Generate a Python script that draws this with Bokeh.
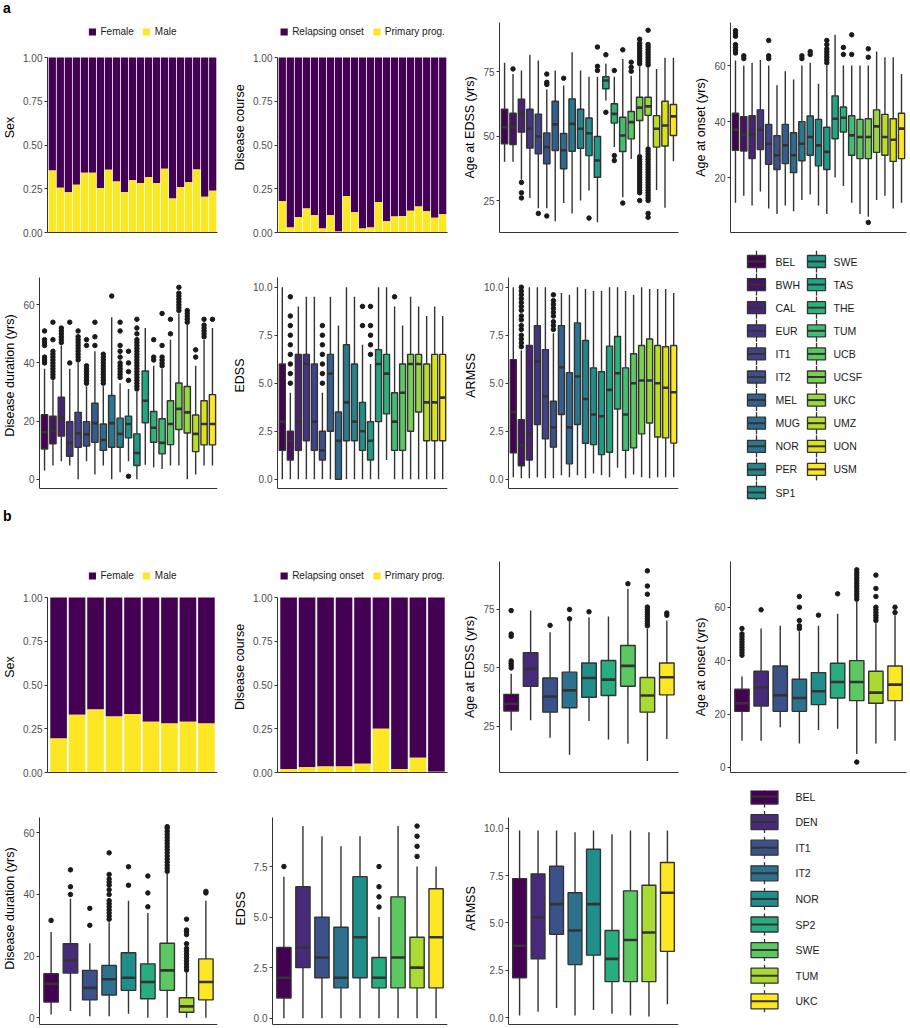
from bokeh.plotting import figure
from bokeh.models import (Range1d, FixedTicker, Legend, LegendItem, Div,
                          ColumnDataSource, NumeralTickFormatter)
from bokeh.layouts import row, column
from bokeh.palettes import viridis
from bokeh.core.properties import value
from bokeh.embed import file_html
from bokeh.resources import INLINE

FONT = "Liberation Sans"
DARK = "#333333"
PURPLE = "#440154"
YELLOW = "#FDE725"

# ---------------- Panel a data ----------------
groups_a = ["BEL", "BWH", "CAL", "EUR", "IT1", "IT2", "MEL", "MUG", "NOR", "PER", "SP1",
            "SWE", "TAS", "THE", "TUM", "UCB", "UCSF", "UKC", "UMZ", "UON", "USM"]

male_a = [0.355, 0.256, 0.230, 0.273, 0.342, 0.342, 0.254, 0.359, 0.292, 0.232, 0.298,
          0.283, 0.317, 0.281, 0.364, 0.194, 0.258, 0.287, 0.360, 0.205, 0.239]
pp_a = [0.178, 0.028, 0.087, 0.137, 0.099, 0.023, 0.099, 0.006, 0.209, 0.116, 0.023,
        0.028, 0.175, 0.065, 0.091, 0.095, 0.125, 0.148, 0.121, 0.085, 0.104]

# Age at EDSS (a)
ageedss_a_q1 = [47.0, 46.7, 51.5, 45.3, 43.1, 39.2, 44.4, 37.3, 44.1, 45.2, 42.4,
                34.0, 68.3, 55.0, 44.0, 48.9, 56.0, 58.0, 45.7, 46.1, 50.2]
ageedss_a_med = [53.4, 53.4, 58.6, 52.8, 49.8, 45.7, 54.5, 44.5, 54.7, 52.8, 51.1,
                 40.5, 71.5, 58.6, 50.2, 55.4, 61.0, 61.5, 52.8, 54.1, 57.6]
ageedss_a_q3 = [60.4, 58.8, 64.3, 60.4, 58.5, 51.2, 63.5, 51.0, 64.4, 60.4, 57.0,
                49.8, 73.0, 62.5, 57.3, 59.5, 65.0, 65.0, 57.9, 63.5, 62.2]
ageedss_a_lo = [40.0, 40.0, 33.0, 26.0, 22.0, 22.0, 17.0, 24.0, 20.0, 25.0, 28.9,
                16.6, 63.8, 45.7, 26.3, 41.1, 43.0, 46.0, 29.1, 22.2, 40.2]
ageedss_a_hi = [78.4, 74.0, 75.4, 81.5, 79.3, 68.0, 75.4, 69.6, 82.5, 75.4, 73.0,
                73.0, 78.0, 73.0, 79.9, 73.4, 77.0, 76.5, 76.0, 80.3, 80.3]
ageedss_a_out = [[], [76], [32, 28, 26], [], [20], [70, 70.8, 74, 19], [], [72.4], [], [], [18.2],
                 [75.4, 77, 84.5], [81.5, 59.2], [75.4, 42.4, 40.5], [83.4, 24], [75.1, 76.7, 78.6],
                 [78, 79, 80, 81, 82, 83, 84, 85, 86, 87.5, 42, 41, 40, 39, 38, 37, 36, 35, 34,
                  33, 32, 31, 30, 29, 28, 25],
                 [77.5, 78.5, 79.5, 80.5, 81.5, 82.5, 83.5, 84.5, 85.5, 91, 45, 44, 43, 42, 41, 40,
                  39, 38, 37, 36, 35, 34, 33, 32, 31, 30, 29, 28, 27, 26, 25, 20, 18.5],
                 [], [], []]

# Age at onset (a)
ageons_a_q1 = [29.8, 29.5, 26.8, 30.0, 24.8, 22.9, 25.0, 21.8, 26.0, 28.0, 24.2,
               22.9, 33.9, 36.3, 28.0, 26.8, 26.8, 29.0, 28.0, 25.8, 26.8]
ageons_a_med = [37.1, 35.3, 35.3, 37.1, 32.0, 28.0, 31.5, 28.0, 32.1, 34.5, 31.5,
                29.2, 41.0, 41.4, 35.1, 34.5, 34.5, 38.3, 34.5, 33.5, 37.5]
ageons_a_q3 = [43.0, 41.8, 42.1, 44.2, 39.0, 35.0, 39.0, 36.0, 40.0, 42.0, 40.8,
               38.0, 49.2, 45.2, 42.1, 40.8, 41.0, 44.2, 42.6, 41.0, 43.0]
ageons_a_lo = [11, 13.5, 10, 15, 9, 7, 10, 8, 12, 14, 10,
               7, 20, 17, 11, 7, 6, 12, 13.5, 9, 11]
ageons_a_hi = [61.8, 60, 61, 62, 60, 53, 58, 55, 60, 61, 53.5,
               60, 71, 60, 60, 60, 60, 65, 63, 63, 57]
ageons_a_out = [[64.5, 65.5, 66.5, 67.5, 70.5, 71.5, 72.5], [62.5, 63.5], [], [], [62.5, 63.5, 69],
                [], [], [], [62.5, 63.5], [64, 65], [],
                [61, 62, 63, 64, 65, 66, 67.5, 69], [], [64, 66.5], [64, 71], [], [63, 66, 4],
                [], [], [], []]

# Disease duration (a)
dur_a_q1 = [10.4, 12.2, 14.8, 7.9, 11.0, 11.4, 12.7, 9.9, 11.0, 11.0, 14.2,
            4.7, 19.4, 12.7, 8.7, 11.9, 17.1, 15.9, 9.5, 11.8, 11.8]
dur_a_med = [16.2, 16.7, 21.1, 12.5, 15.8, 15.4, 19.3, 13.5, 19.3, 15.6, 19.0,
             9.0, 27.0, 17.7, 12.5, 19.0, 24.2, 23.0, 15.6, 19.0, 19.0]
dur_a_q3 = [22.2, 21.7, 28.2, 19.8, 23.0, 19.8, 26.1, 19.0, 28.8, 21.0, 21.7,
            15.6, 37.2, 23.3, 20.8, 27.0, 33.1, 31.9, 22.1, 27.0, 29.1]
dur_a_lo = [3, 4.7, 6.2, 4.7, 0, 6.2, 1.6, 4.7, 0, 2.4, 6.2,
            0, 5, 4, 3.5, 4.7, 4.7, 0, 1.6, 4.7, 4.7]
dur_a_hi = [38, 34, 46, 38, 40, 32, 44, 32, 55.7, 33, 31,
            30, 52, 39, 38, 48, 57, 53, 39, 48, 52]
dur_a_out = [[40, 41, 42, 46, 47, 48, 51], [35, 36, 37, 38, 39, 40, 41, 42, 43, 44, 48, 54],
             [47, 48, 49, 50, 51, 52], [40, 54], [41, 42, 43, 44, 45, 46, 47, 48, 49, 51],
             [33, 34, 35, 36, 37, 38, 39, 46, 48], [46, 49, 54],
             [33, 34, 35, 36, 37, 38, 39, 40, 41, 42, 43], [63],
             [35, 36, 37, 38, 39, 40, 42, 44, 46, 51, 54], [34, 37, 40, 44, 1],
             [31, 32, 33, 34, 35, 36, 37, 38, 39, 40, 41, 42, 43, 44, 45, 46, 47, 48, 50, 52, 55],
             [], [41, 42, 48], [39, 40, 41, 42, 46, 57], [50, 55], [58, 59, 60, 61, 62, 63, 64, 66],
             [54, 55, 56, 57, 58], [42, 44.5], [49, 50, 51, 52, 53, 55], [55]]

# EDSS (a)
edss_a_q1 = [1.5, 1.0, 1.5, 2.0, 1.5, 1.0, 2.5, 0.0, 2.0, 2.0, 1.5,
             1.0, 3.0, 3.4, 1.5, 1.5, 2.5, 3.5, 2.0, 2.0, 2.0]
edss_a_med = [3.0, 2.0, 3.0, 6.0, 3.0, 1.5, 5.5, 2.0, 4.0, 3.0, 2.5,
              2.0, 6.0, 5.5, 3.0, 4.5, 6.0, 6.0, 4.0, 4.0, 4.25]
edss_a_q3 = [6.0, 2.5, 6.5, 6.5, 6.0, 2.5, 6.5, 3.5, 7.0, 6.0, 4.0,
             3.0, 6.75, 6.5, 4.5, 6.0, 6.5, 6.5, 6.0, 6.5, 6.5]
edss_a_lo = [0, 0, 0, 0, 0, 0, 0, 0, 0, 0, 0,
             0, 0, 1.0, 0, 0, 0, 0, 0, 0, 0]
edss_a_hi = [10, 4.5, 9, 9.5, 9.5, 4.5, 9.5, 8, 10, 9.5, 7,
             6, 10, 10, 9, 8, 9.5, 9, 8.5, 9, 8.5]
edss_a_out = [[], [5, 5.5, 6, 6.5, 7, 7.5, 8, 8.5, 9.5], [], [], [], [5, 5.5, 6, 6.5, 7, 7.5, 8],
              [], [], [], [], [8, 9], [6.5, 7, 7.5, 8, 9], [], [], [9.5], [], [], [], [], [], []]

# ARMSS (a)
armss_a_q1 = [1.37, 0.70, 1.00, 2.85, 2.10, 1.67, 3.37, 0.80, 2.85, 1.87, 1.80,
              1.28, 1.40, 3.66, 1.50, 1.63, 2.36, 2.93, 2.20, 2.15, 1.88]
armss_a_med = [3.50, 1.75, 2.36, 6.13, 4.32, 2.70, 5.83, 2.70, 5.35, 4.18, 3.37,
               3.28, 4.65, 5.52, 3.37, 5.00, 5.14, 5.14, 5.00, 4.76, 4.53]
armss_a_q3 = [6.23, 3.10, 6.96, 8.00, 6.75, 4.06, 8.00, 5.55, 8.14, 7.22, 5.80,
              5.60, 6.93, 7.43, 5.80, 6.53, 6.96, 7.30, 6.96, 6.90, 6.96]
armss_a_lo = [0.1, 0.05, 0.05, 0.1, 0.05, 0.05, 0.2, 0.1, 0.2, 0.05, 0.3,
              0.2, 0.1, 0.6, 0.05, 0.25, 0.1, 0.05, 0.1, 0.1, 0.1]
armss_a_hi = [10, 6.7, 10, 10, 10, 7.6, 9.7, 9.6, 10, 9.9, 9.8,
              9.8, 10, 10, 9.8, 9.6, 10, 9.9, 9.9, 9.9, 9.7]
armss_a_out = [[], [6.9, 7.1, 7.3, 7.5, 7.8, 8.0, 8.3, 8.5, 8.8, 9.0, 9.2, 9.4, 9.6, 9.8, 10.0],
               [], [], [], [7.8, 8.0, 8.2, 8.5, 8.7, 8.9, 9.1, 9.3, 9.6],
               [], [], [], [], [], [], [], [], [], [], [], [], [], [], []]

# ---------------- Panel b data ----------------
groups_b = ["BEL", "DEN", "IT1", "IT2", "NOR", "SP2", "SWE", "TUM", "UKC"]

male_b = [0.195, 0.33, 0.36, 0.32, 0.335, 0.29, 0.28, 0.29, 0.28]
pp_b = [0.02, 0.03, 0.035, 0.035, 0.05, 0.25, 0.02, 0.085, 0.005]

ageedss_b_q1 = [31.6, 42.1, 31.1, 33.0, 37.5, 38.2, 42.2, 31.1, 38.5]
ageedss_b_med = [34.7, 49.6, 37.8, 40.4, 45.7, 45.0, 50.9, 38.2, 46.0]
ageedss_b_q3 = [38.7, 56.5, 45.7, 48.2, 52.1, 53.2, 59.6, 45.9, 52.1]
ageedss_b_lo = [23.3, 27.6, 20.2, 12.9, 27.3, 19.4, 17.6, 10.2, 19.6]
ageedss_b_hi = [47.5, 74.6, 65.3, 70.3, 71.7, 72.0, 83.8, 66.7, 70.3]
ageedss_b_out = [[50, 51, 52, 53, 63.5, 64.5, 74.5], [], [68.2], [71, 75], [74], [], [86],
                 [68, 69, 70, 71, 72, 73, 74, 75, 76, 81.5, 85, 91.5], [72.5, 73.5]]

ageons_b_q1 = [21, 23, 21, 21, 23.5, 26, 25, 24, 25]
ageons_b_med = [24, 30, 27, 26, 28.5, 32, 32, 28, 31]
ageons_b_q3 = [29.3, 36, 38, 33, 35.5, 39, 40, 36, 38]
ageons_b_lo = [10, 10, 15, 9, 14, 14.5, 5, 9, 10]
ageons_b_hi = [34, 52, 53, 51, 53, 57.5, 62, 54, 57]
ageons_b_out = [[42, 43, 44, 45, 46, 47, 48, 49, 50, 52], [59], [], [52, 53, 55, 60, 64], [57], [65],
                [63, 64, 65, 66, 67, 68, 69, 70, 71, 72, 73, 74, 2],
                [55, 56, 57, 58, 59, 60, 64, 67, 72], [58, 60]]

dur_b_q1 = [5.1, 14.5, 5.8, 7.4, 8.9, 6.2, 8.9, 1.8, 5.8]
dur_b_med = [11.0, 18.6, 9.7, 12.5, 13.0, 11.6, 15.4, 3.7, 11.6]
dur_b_q3 = [14.3, 24.0, 15.4, 17.0, 21.1, 17.5, 24.2, 6.5, 19.1]
dur_b_lo = [1.1, 2.2, 0.5, 0.5, 1.3, 0, 0, 0, 0]
dur_b_hi = [27.8, 38.6, 24.2, 31, 38, 34, 46.7, 14.8, 38]
dur_b_out = [[31.6], [40, 42.5, 48], [30, 35.5],
             [32, 33, 34, 35, 36, 37, 38, 40, 41.5, 43, 44, 45, 46.5, 53.5], [43, 49], [36, 40.5, 46],
             [47.5, 48.5, 49.5, 50.5, 51.5, 52.5, 53.5, 54.5, 55.5, 56.5, 57.5, 58.5, 59.5, 60.5, 61.5, 62],
             [15.5, 16.5, 17.5, 18.5, 19.5, 20.5, 21.5, 22.5, 24, 27, 28, 28.5, 32], [40.5, 41]]

edss_b_q1 = [1.0, 2.5, 2.0, 1.5, 2.0, 1.5, 1.5, 1.5, 1.5]
edss_b_med = [2.0, 3.5, 3.0, 2.0, 4.0, 2.0, 3.0, 2.5, 4.0]
edss_b_q3 = [3.5, 6.5, 5.0, 4.5, 7.0, 3.0, 6.0, 4.0, 6.4]
edss_b_lo = [0, 0, 0, 0, 0, 0, 0, 0, 0]
edss_b_hi = [7.0, 9.5, 9.0, 8.5, 9.0, 5.0, 9.5, 7.5, 7.5]
edss_b_out = [[7.5], [], [], [], [], [5.5, 6, 6.5, 7.5], [], [8, 8.5, 9, 9.5], []]

armss_b_q1 = [2.1, 3.1, 4.4, 2.8, 3.3, 1.9, 1.9, 1.9, 3.5]
armss_b_med = [3.8, 5.3, 6.0, 4.6, 6.0, 3.1, 4.1, 4.5, 6.6]
armss_b_q3 = [7.35, 7.6, 8.0, 6.6, 8.9, 4.6, 6.7, 7.0, 8.2]
armss_b_lo = [0.1, 0.3, 0.5, 0.1, 0.4, 0.2, 0.1, 0.05, 0.7]
armss_b_hi = [9.9, 9.9, 9.9, 9.8, 9.9, 9.7, 9.9, 9.8, 9.9]
armss_b_out = [[], [], [], [], [], [], [], [], []]

colors_a = list(viridis(len(groups_a)))
colors_b = list(viridis(len(groups_b)))


# ---------------- helpers ----------------
def base_fig(w, h, bl, bt, br, bb, xr, yr):
    p = figure(width=w, height=h, x_range=xr, y_range=yr, output_backend="svg",
               toolbar_location=None, min_border_left=bl, min_border_top=bt,
               min_border_right=br, min_border_bottom=bb)
    p.outline_line_color = None
    p.grid.visible = False
    p.background_fill_color = "white"
    p.border_fill_color = "white"
    xa = p.xaxis[0]
    xa.ticker = FixedTicker(ticks=[], minor_ticks=[])
    xa.major_tick_out = 0
    xa.major_tick_in = 0
    xa.minor_tick_out = 0
    xa.minor_tick_in = 0
    xa.major_label_text_font_size = "0px"
    xa.major_label_standoff = 0
    xa.axis_line_color = DARK
    xa.axis_line_width = 1
    ya = p.yaxis[0]
    ya.axis_line_color = DARK
    ya.axis_line_width = 1
    ya.major_tick_line_color = DARK
    ya.major_tick_out = 3
    ya.major_tick_in = 0
    ya.minor_tick_line_color = None
    ya.major_label_text_color = "#4d4d4d"
    ya.major_label_text_font = FONT
    ya.major_label_text_font_size = "10px"
    ya.major_label_standoff = 2
    ya.axis_label_text_font = FONT
    ya.axis_label_text_font_size = "12.5px"
    ya.axis_label_text_font_style = "normal"
    ya.axis_label_text_color = "black"
    ya.axis_label_standoff = 3
    return p


def set_y(p, ticks, fmt, label):
    ya = p.yaxis[0]
    ya.ticker = FixedTicker(ticks=ticks, minor_ticks=[])
    ya.formatter = NumeralTickFormatter(format=fmt)
    ya.axis_label = label


def bar_fig(w, h, bl, bt, br, bb, ytop, lower, labels, ylabel, lmargin):
    n = len(lower)
    p = base_fig(w, h, bl, bt, br, bb, Range1d(0.4, n + 0.6), Range1d(0, ytop))
    xs = list(range(1, n + 1))
    src = ColumnDataSource(dict(x=xs, low=lower, one=[1.0] * n, zero=[0.0] * n))
    r_top = p.vbar(x="x", bottom="low", top="one", width=0.9, fill_color=PURPLE,
                   line_color=None, source=src)
    r_bot = p.vbar(x="x", bottom="zero", top="low", width=0.9, fill_color=YELLOW,
                   line_color=None, source=src)
    leg = Legend(items=[LegendItem(label=labels[0], renderers=[r_top]),
                        LegendItem(label=labels[1], renderers=[r_bot])],
                 location="top_center", orientation="horizontal")
    leg.border_line_color = None
    leg.background_fill_alpha = 0
    leg.label_text_font = FONT
    leg.label_text_font_size = "10px"
    leg.label_text_color = "#1a1a1a"
    leg.glyph_width = 9
    leg.glyph_height = 9
    leg.label_height = 12
    leg.label_width = 10
    leg.label_standoff = 4
    leg.spacing = 8
    leg.padding = 2
    leg.margin = lmargin
    p.add_layout(leg)
    set_y(p, [0, 0.25, 0.5, 0.75, 1.0], "0.00", ylabel)
    p.yaxis[0].bounds = (0, 1)
    return p


def box_fig(w, h, bl, bt, br, bb, yr, ticks, fmt, ylabel, q1, med, q3, lo, hi, outl, colors,
            panel=None):
    n = len(q1)
    p = base_fig(w, h, bl, bt, br, bb, Range1d(0.4, n + 0.6), Range1d(*yr))
    if panel is not None:
        # frame fills the whole cell; the axes are drawn only over the panel's extent
        p.yaxis[0].bounds = panel
        p.xaxis[0].fixed_location = panel[0]
    xs = list(range(1, n + 1))
    src = ColumnDataSource(dict(x=xs, q1=q1, med=med, q3=q3, lo=lo, hi=hi, c=colors,
                                l=[x - 0.375 for x in xs], r=[x + 0.375 for x in xs]))
    ox = [i + 1 for i, o in enumerate(outl) for _ in o]
    oy = [v for o in outl for v in o]
    p.scatter(ox, oy, size=4.5, fill_color="#1a1a1a", line_color="#1a1a1a")
    p.segment("x", "lo", "x", "q1", source=src, line_color=DARK, line_width=1.4)
    p.segment("x", "q3", "x", "hi", source=src, line_color=DARK, line_width=1.4)
    p.vbar(x="x", bottom="q1", top="q3", width=0.75, fill_color="c", line_color=DARK,
           line_width=1.4, source=src)
    p.segment("l", "med", "r", "med", source=src, line_color=DARK, line_width=2.6)
    set_y(p, ticks, fmt, ylabel)
    return p


def legend_fig(w, h, labels, colors, kx, tx, ky, bw, bh, wh):
    p = figure(width=w, height=h, x_range=Range1d(0, w), y_range=Range1d(h, 0),
               output_backend="svg", toolbar_location=None, min_border=0)
    p.axis.visible = False
    p.grid.visible = False
    p.outline_line_color = None
    src = ColumnDataSource(dict(kx=kx, tx=tx, y=ky, c=colors, lab=labels,
                                y0=[y - wh for y in ky], y1=[y + wh for y in ky],
                                l=[x - bw / 2 for x in kx], r=[x + bw / 2 for x in kx]))
    p.segment("kx", "y0", "kx", "y1", source=src, line_color=DARK, line_width=1.3)
    p.rect("kx", "y", width=bw, height=bh, fill_color="c", line_color=DARK,
           line_width=1.3, source=src)
    p.segment("l", "y", "r", "y", source=src, line_color=DARK, line_width=2)
    p.text("tx", "y", text="lab", text_baseline="middle", text_align="left",
           text_font=value(FONT), text_font_size="10.5px", text_color="#1a1a1a", source=src)
    return p


# ---------------- layout ----------------
W1, W2, W3, W4 = 230, 230, 230, 218

# Row a1: height 232, frame 22..232 (page)
H = 232
a_sex = bar_fig(W1, H, 45, 4, 13, 18, 1.2, male_a, ("Female", "Male"), "Sex", 3)
a_dc = bar_fig(W2, H, 45, 4, 13, 18, 1.2, pp_a, ("Relapsing onset", "Primary prog."),
               "Disease course", 3)
a_ae = box_fig(W3, H, 39, 4, 12, 18, (12.6, 94.0), [25, 50, 75], "0", "Age at EDSS (yrs)",
               ageedss_a_q1, ageedss_a_med, ageedss_a_q3, ageedss_a_lo, ageedss_a_hi,
               ageedss_a_out, colors_a)
a_ao = box_fig(W4, H, 40, 4, 2, 18, (0.4, 75.4), [20, 40, 60], "0", "Age at onset (yrs)",
               ageons_a_q1, ageons_a_med, ageons_a_q3, ageons_a_lo, ageons_a_hi,
               ageons_a_out, colors_a)

# Row a2: height 250 (page 250..500); panels span page 277..488
H = 250
a_du = box_fig(W1, H, 37, 0, 13, 0, (-7.33, 78.67), [0, 20, 40, 60], "0",
               "Disease duration (yrs)", dur_a_q1, dur_a_med, dur_a_q3, dur_a_lo, dur_a_hi,
               dur_a_out, colors_a, panel=(-3.1, 69.3))
a_ed = box_fig(W2, H, 47, 0, 13, 0, (-1.109, 11.911), [0, 2.5, 5, 7.5, 10], "0.0", "EDSS",
               edss_a_q1, edss_a_med, edss_a_q3, edss_a_lo, edss_a_hi, edss_a_out, colors_a,
               panel=(-0.48, 10.52))
a_ar = box_fig(W3, H, 48, 0, 12, 0, (-1.109, 11.911), [0, 2.5, 5, 7.5, 10], "0.0", "ARMSS",
               armss_a_q1, armss_a_med, armss_a_q3, armss_a_lo, armss_a_hi, armss_a_out,
               colors_a, panel=(-0.48, 10.52))
na = len(groups_a)
rows_a = 11
kx_a = [66 + (i // rows_a) * 60 for i in range(na)]
tx_a = [85 + (i // rows_a) * 58 for i in range(na)]
ky_a = [11 + (i % rows_a) * 23.1 for i in range(na)]
a_leg = legend_fig(W4, H, groups_a, colors_a, kx_a, tx_a, ky_a, 18, 12, 11)

# Row b1: height 250, frame 561..772
H = 250
b_sex = bar_fig(W1, H, 45, 21, 13, 18, 1.206, male_b, ("Female", "Male"), "Sex", 8)
b_dc = bar_fig(W2, H, 45, 21, 13, 18, 1.206, pp_b, ("Relapsing onset", "Primary prog."),
               "Disease course", 8)
b_ae = box_fig(W3, H, 39, 21, 12, 18, (5.3, 95.5), [25, 50, 75], "0", "Age at EDSS (yrs)",
               ageedss_b_q1, ageedss_b_med, ageedss_b_q3, ageedss_b_lo, ageedss_b_hi,
               ageedss_b_out, colors_b)
b_ao = box_fig(W4, H, 40, 21, 2, 18, (-1.9, 77.1), [0, 20, 40, 60], "0", "Age at onset (yrs)",
               ageons_b_q1, ageons_b_med, ageons_b_q3, ageons_b_lo, ageons_b_hi,
               ageons_b_out, colors_b)

# Row b2: height 236 (page 790..1026); panels span page 817..1024
H = 236
b_du = box_fig(W1, H, 37, 0, 13, 0, (-2.82, 73.73), [0, 20, 40, 60], "0",
               "Disease duration (yrs)", dur_b_q1, dur_b_med, dur_b_q3, dur_b_lo, dur_b_hi,
               dur_b_out, colors_b, panel=(-2.17, 64.96))
b_ed = box_fig(W2, H, 41, 0, 13, 0, (-0.41, 11.26), [0, 2.5, 5, 7.5], "0.0", "EDSS",
               edss_b_q1, edss_b_med, edss_b_q3, edss_b_lo, edss_b_hi, edss_b_out, colors_b,
               panel=(-0.31, 9.93))
b_ar = box_fig(W3, H, 48, 0, 12, 0, (-0.476, 12.01), [0, 2.5, 5, 7.5, 10], "0.0", "ARMSS",
               armss_b_q1, armss_b_med, armss_b_q3, armss_b_lo, armss_b_hi, armss_b_out,
               colors_b, panel=(-0.37, 10.58))
nb = len(groups_b)
kx_b = [74] * nb
tx_b = [105] * nb
ky_b = [6 + i * 25.6 for i in range(nb)]
b_leg = legend_fig(W4, H, groups_b, colors_b, kx_b, tx_b, ky_b, 27, 15, 11)

lab_style = {"font-family": FONT, "font-size": "14px", "font-weight": "bold",
             "line-height": "16px", "color": "black", "padding-left": "3px"}
div_a = Div(text="a", width=908, height=18, margin=(0, 0, 0, 0), styles=lab_style)
div_b = Div(text="b", width=908, height=40, margin=(0, 0, 0, 0),
            styles=dict(lab_style, **{"padding-top": "8px"}))

layout = column(
    div_a,
    row(a_sex, a_dc, a_ae, a_ao),
    row(a_du, a_ed, a_ar, a_leg),
    div_b,
    row(b_sex, b_dc, b_ae, b_ao),
    row(b_du, b_ed, b_ar, b_leg),
)

open("out.html", "w").write(file_html(layout, INLINE))
